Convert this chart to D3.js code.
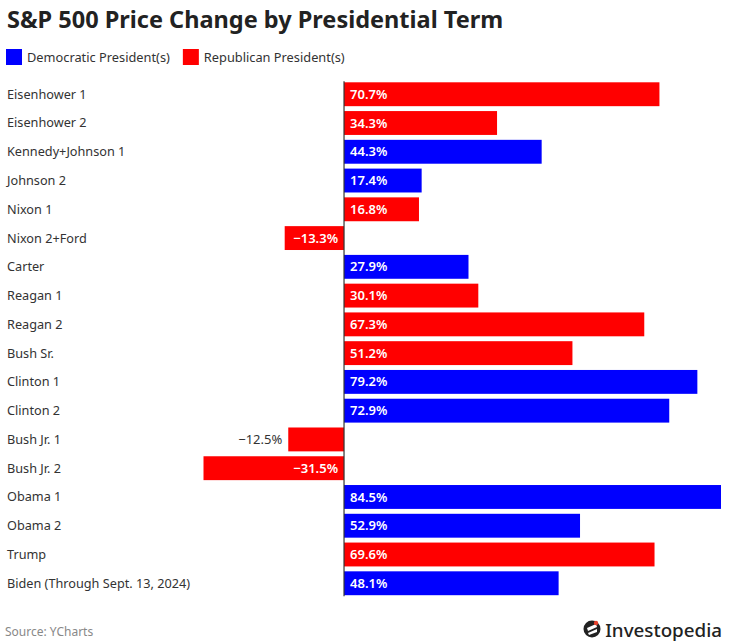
<!DOCTYPE html>
<html><head><meta charset="utf-8">
<script src="https://cdn.jsdelivr.net/npm/d3@7"></script>
<style>body{margin:0;background:#fff;}svg{display:block;font-family:"Source Sans Pro","Noto Sans",Lato,sans-serif;}</style>
</head><body><svg id="c" width="733" height="642"></svg>
<script>
const terms = ["Eisenhower 1","Eisenhower 2","Kennedy+Johnson 1","Johnson 2","Nixon 1","Nixon 2+Ford","Carter","Reagan 1","Reagan 2","Bush Sr.","Clinton 1","Clinton 2","Bush Jr. 1","Bush Jr. 2","Obama 1","Obama 2","Trump","Biden (Through Sept. 13, 2024)"];
const changes = [70.7,34.3,44.3,17.4,16.8,-13.3,27.9,30.1,67.3,51.2,79.2,72.9,-12.5,-31.5,84.5,52.9,69.6,48.1];
const parties = ["R","R","D","D","R","R","D","R","R","R","D","D","R","R","D","D","R","D"];
const partyNames = {D:"Democratic President(s)", R:"Republican President(s)"};
const partyColors = {D:"#0000ff", R:"#ff0000"};

const svg = d3.select("#c");
const x = d3.scaleLinear().domain([-31.5,84.5]).range([203.5,721]);
const y = d3.scaleBand().domain(terms).range([80,597.5]).paddingInner(0.17).paddingOuter(0.08);

svg.append("text").attr("x",7).attr("y",28).attr("font-size",23.5).attr("font-weight",700).attr("fill","#222")
  .text("S&P 500 Price Change by Presidential Term");

// legend
const lg = svg.append("g");
let lx = 6;
["D","R"].forEach(p=>{
  lg.append("rect").attr("x",lx).attr("y",49).attr("width",16).attr("height",16).attr("fill",partyColors[p]);
  const t = lg.append("text").attr("x",lx+21).attr("y",62).attr("font-size",12.8).attr("fill","#333").text(partyNames[p]);
  lx += 21 + t.node().getComputedTextLength() + 13;
});

const rows = svg.append("g");
terms.forEach((t,i)=>{
  const v = changes[i];
  const y0 = y(t), h = y.bandwidth();
  rows.append("text").attr("x",7).attr("y",y0+h/2).attr("dy","0.35em").attr("font-size",12.7).attr("fill","#333").text(t);
  const x0 = x(Math.min(0,v)), x1 = x(Math.max(0,v));
  rows.append("rect").attr("x",x0).attr("y",y0).attr("width",x1-x0).attr("height",h).attr("fill",partyColors[parties[i]]);
  const lbl = (v<0?"\u2212":"")+Math.abs(v).toFixed(1)+"%";
  const tx = rows.append("text").attr("y",y0+h/2).attr("dy","0.35em").attr("font-size",13).text(lbl);
  if (v>=0) {
    tx.attr("x",x(0)+6).attr("fill","#fff").attr("font-weight",600);
  } else {
    const w = tx.node().getComputedTextLength();
    if (w+12 < x1-x0) tx.attr("x",x(0)-6).attr("text-anchor","end").attr("fill","#fff").attr("font-weight",600);
    else tx.attr("x",x0-6).attr("text-anchor","end").attr("fill","#333");
  }
});

svg.append("line").attr("x1",x(0)).attr("x2",x(0)).attr("y1",y(terms[0])-1).attr("y2",y(terms[terms.length-1])+y.bandwidth()+1)
  .attr("stroke","#333").attr("stroke-width",1.2);

svg.append("text").attr("x",5).attr("y",636).attr("font-size",12).attr("fill","#888").text("Source: YCharts");

// logo
const logo = svg.append("g").attr("transform","translate(592,629)");
logo.append("circle").attr("r",8.5).attr("fill","#222");
logo.append("path").attr("d","M-5,-1 L4,-5 L5,-2 L-4,2 Z M-4,4 L5,0 L5,3 L-3,6 Z").attr("fill","#fff");
logo.append("circle").attr("cx",4).attr("cy",-6).attr("r",2.2).attr("fill","#e8412c");
svg.append("text").attr("x",722).attr("y",637).attr("text-anchor","end").attr("font-size",18.8).attr("font-weight",500).attr("fill","#222").text("Investopedia");
</script></body></html>
